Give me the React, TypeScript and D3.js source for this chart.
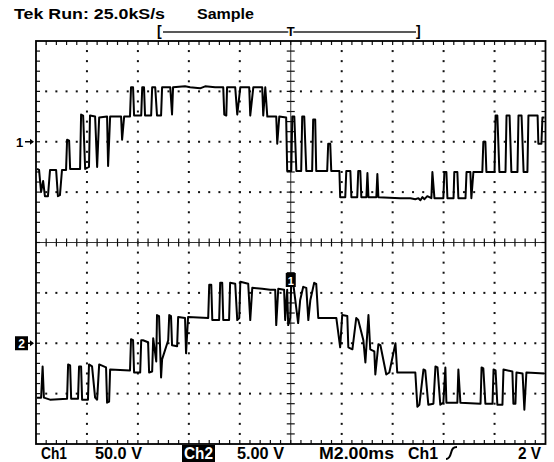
import React from 'react';
import * as d3 from 'd3';

// Timebase: 2.00 ms/div, 10 divisions; vertical: 8 divisions
const timeDomain: [number, number] = [0, 20];
const divDomain: [number, number] = [-4, 4];
const hDivs = 10;
const vDivs = 8;
const minorPerDiv = 5;

// Channel settings
const ch1VoltsPerDiv = 50;
const ch1OffsetDiv = 2;
const ch2VoltsPerDiv = 5;
const ch2OffsetDiv = -2;

// Ch1 trace: [time ms, volts]
const ch1Points: [number, number][] = [
  [0.04, -27], [0.12, -28], [0.2, -50], [0.28, -39], [0.35, -54], [0.47, -54], [0.55, -28], [0.79, -28],
  [0.86, -54], [0.94, -53], [1.02, -28], [1.18, -28], [1.22, 2], [1.3, 1], [1.34, -27], [1.73, -27],
  [1.77, 27], [1.85, 26], [1.93, -27], [2.08, -25], [2.12, 26], [2.32, 25], [2.4, -25], [2.48, 24],
  [2.79, 25], [2.83, -24], [2.91, 25], [3.34, 25], [3.38, 2], [3.46, 25], [3.69, 25], [3.73, 54],
  [3.81, 54], [3.85, 26], [4.13, 26], [4.17, 54], [4.24, 54], [4.28, 26], [4.52, 26], [4.56, 54],
  [4.68, 54], [4.75, 26], [4.91, 26], [4.95, 54], [5.27, 54], [5.34, 27], [5.38, 54], [5.85, 55],
  [6.05, 54], [6.44, 53], [6.64, 55], [7.03, 54], [7.35, 54], [7.39, 27], [7.47, 26], [7.5, 54],
  [7.82, 54], [7.9, 27], [8.02, 54], [8.37, 54], [8.41, 26], [8.53, 54], [8.88, 54], [8.92, 26],
  [9.0, 54], [9.08, 25], [9.43, 25], [9.47, -2], [9.55, 25], [9.82, 24], [9.86, -29], [10.02, -29],
  [10.06, 25], [10.14, 25], [10.22, -29], [10.41, -29], [10.45, 25], [10.53, 25], [10.61, -29],
  [10.84, -29], [10.88, 22], [10.96, 22], [11.0, -29], [11.43, -29], [11.47, -2], [11.55, -2],
  [11.59, -29], [11.91, -29], [11.94, -55], [12.14, -55], [12.18, -29], [12.34, -29], [12.38, -55],
  [12.61, -55], [12.65, -29], [12.73, -29], [12.77, -55], [12.97, -55], [13.01, -31], [13.05, -55],
  [13.36, -55], [13.4, -32], [13.44, -55], [14.3, -56], [14.7, -56], [14.89, -57], [15.01, -56],
  [15.09, -58], [15.17, -55], [15.25, -57], [15.36, -54], [15.52, -56], [15.56, -30], [15.64, -56],
  [15.99, -56], [16.03, -30], [16.11, -30], [16.15, -56], [16.39, -56], [16.42, -30], [16.54, -30],
  [16.58, -56], [16.86, -56], [16.9, -30], [17.05, -30], [17.09, -56], [17.17, -30], [17.52, -30],
  [17.56, 0], [17.64, 0], [17.68, -30], [18.0, -30], [18.04, 26], [18.11, 26], [18.19, -30],
  [18.43, -30], [18.47, 26], [18.59, 26], [18.66, -30], [18.9, -30], [18.94, 26], [19.06, 26],
  [19.14, -30], [19.29, -30], [19.33, 26], [19.69, 26], [19.72, -2], [19.84, -2], [19.88, 24],
  [19.96, 24],
];

// Ch2 trace: [time ms, volts]
const ch2Points: [number, number][] = [
  [0.04, -5.4], [0.2, -5.4], [0.26, -2.3], [0.31, -5.4], [0.55, -5.6], [1.22, -5.5], [1.26, -2.1],
  [1.34, -2.2], [1.38, -5.5], [1.65, -5.5], [1.69, -2.3], [1.77, -2.3], [1.81, -5.6], [2.04, -5.6],
  [2.08, -2.1], [2.2, -2.3], [2.32, -5.4], [2.4, -5.6], [2.48, -2.1], [2.75, -2.4], [2.79, -5.9],
  [2.87, -5.8], [2.91, -2.6], [3.69, -2.7], [3.73, 0.4], [3.81, 0.3], [3.85, -2.9], [4.09, -2.9],
  [4.13, 0.3], [4.2, 0.3], [4.4, 0.1], [4.44, -2.9], [4.56, -2.8], [4.6, 0.5], [4.72, -1.8],
  [4.75, 2.8], [4.83, 2.7], [4.91, -3.4], [4.95, -1.6], [5.19, 0.3], [5.23, 2.8], [5.3, 2.7],
  [5.34, -0.2], [5.54, -0.3], [5.58, 2.6], [5.85, 2.5], [5.89, -1.0], [5.97, 2.6], [6.76, 2.5],
  [6.8, 5.8], [6.88, 5.8], [6.92, 2.3], [7.19, 2.3], [7.23, 6.0], [7.31, 6.0], [7.35, 2.3],
  [7.58, 2.3], [7.62, 6.0], [7.82, 5.9], [7.9, 2.3], [7.98, 2.5], [8.02, 6.1], [8.33, 5.9],
  [8.41, 2.3], [8.49, 5.5], [8.88, 5.4], [9.19, 5.3], [9.39, 5.3], [9.43, 1.8], [9.51, 5.4],
  [9.74, 5.3], [9.78, 2.3], [9.86, 5.3], [9.9, 1.8], [9.98, 2.5], [10.02, 6.0], [10.1, 5.9],
  [10.29, 2.0], [10.37, 4.3], [10.49, 5.6], [10.61, 5.5], [10.69, 2.3], [10.77, 4.3], [10.92, 6.0],
  [11.0, 5.9], [11.08, 2.5], [11.79, 2.5], [11.94, -0.4], [12.02, 2.8], [12.22, 2.7], [12.26, -0.4],
  [12.42, -0.6], [12.57, 2.5], [12.65, 2.3], [12.85, 0.3], [12.93, -1.9], [13.05, 2.8], [13.12, -0.6],
  [13.28, -0.8], [13.32, -3.1], [13.44, -0.1], [13.52, -0.2], [13.75, -3.1], [13.87, -2.9],
  [14.11, 0.0], [14.18, -2.9], [14.89, -2.9], [14.97, -6.3], [15.05, -6.1], [15.21, -2.6],
  [15.28, -2.7], [15.4, -6.1], [15.6, -6.0], [15.68, -2.3], [15.76, -2.4], [15.87, -6.1],
  [15.99, -5.9], [16.07, -2.4], [16.11, -5.9], [16.54, -5.9], [16.58, -2.6], [16.66, -5.9],
  [17.45, -6.0], [17.49, -2.4], [17.56, -2.5], [17.64, -6.0], [17.92, -6.0], [17.96, -2.6],
  [18.04, -2.7], [18.11, -6.1], [18.31, -6.1], [18.35, -2.6], [18.7, -2.8], [18.74, -6.0],
  [18.82, -6.0], [18.86, -2.9], [19.1, -3.0], [19.17, -6.6], [19.25, -2.9], [19.96, -3.0],
];

const headerLabels = ['Tek Run: 25.0kS/s', 'Sample'];
const footerLabels = ['Ch1', '50.0 V', 'Ch2', '5.00 V', 'M2.00ms', 'Ch1', '2 V'];

const W = 554;
const H = 462;
const FONT = "'Liberation Sans', Arial, sans-serif";

export default function App() {
  const x = d3.scaleLinear().domain(timeDomain).range([36, 545.5]);
  const yDiv = d3.scaleLinear().domain(divDomain).range([444, 41]);
  const y1 = (v: number) => yDiv(v / ch1VoltsPerDiv + ch1OffsetDiv);
  const y2 = (v: number) => yDiv(v / ch2VoltsPerDiv + ch2OffsetDiv);

  const line1 = d3.line<[number, number]>().x(d => x(d[0])).y(d => y1(d[1]));
  const line2 = d3.line<[number, number]>().x(d => x(d[0])).y(d => y2(d[1]));

  const [x0, x1] = x.range();
  const [yb, yt] = yDiv.range();
  const tPerDiv = (timeDomain[1] - timeDomain[0]) / hDivs;
  const minorT = d3.range(0, hDivs * minorPerDiv + 1).map(i => timeDomain[0] + (i * tPerDiv) / minorPerDiv);
  const minorD = d3.range(0, vDivs * minorPerDiv + 1).map(i => divDomain[0] + i / minorPerDiv);
  const majorT = d3.range(1, hDivs).map(i => timeDomain[0] + i * tPerDiv);
  const majorD = d3.range(1, vDivs).map(i => divDomain[0] + i);
  const cx = x((timeDomain[0] + timeDomain[1]) / 2);
  const cy = yDiv(0);

  const dots: JSX.Element[] = [];
  majorT.forEach((t, i) => {
    if (Math.abs(x(t) - cx) < 1) return;
    minorD.forEach((d, j) => {
      if (j === 0 || j === minorD.length - 1) return;
      dots.push(<rect key={`vd${i}-${j}`} x={x(t) - 1} y={yDiv(d) - 1} width={2} height={2} fill="#111" />);
    });
  });
  majorD.forEach((d, i) => {
    if (Math.abs(yDiv(d) - cy) < 1) return;
    minorT.forEach((t, j) => {
      if (j === 0 || j === minorT.length - 1) return;
      dots.push(<rect key={`hd${i}-${j}`} x={x(t) - 1} y={yDiv(d) - 1} width={2} height={2} fill="#111" />);
    });
  });

  const ticks: JSX.Element[] = [];
  minorT.forEach((t, j) => {
    if (j === 0 || j === minorT.length - 1) return;
    const px = x(t);
    ticks.push(<line key={`ct${j}`} x1={px} x2={px} y1={cy - 4} y2={cy + 4} stroke="#111" strokeWidth={1.2} />);
    ticks.push(<line key={`tt${j}`} x1={px} x2={px} y1={yt} y2={yt + 4} stroke="#111" strokeWidth={1.2} />);
    ticks.push(<line key={`bt${j}`} x1={px} x2={px} y1={yb - 4} y2={yb} stroke="#111" strokeWidth={1.2} />);
  });
  minorD.forEach((d, j) => {
    if (j === 0 || j === minorD.length - 1) return;
    const py = yDiv(d);
    ticks.push(<line key={`cv${j}`} x1={cx - 4} x2={cx + 4} y1={py} y2={py} stroke="#111" strokeWidth={1.2} />);
    ticks.push(<line key={`lt${j}`} x1={x0} x2={x0 + 4} y1={py} y2={py} stroke="#111" strokeWidth={1.2} />);
    ticks.push(<line key={`rt${j}`} x1={x1 - 4} x2={x1} y1={py} y2={py} stroke="#111" strokeWidth={1.2} />);
  });

  const ch1G = y1(0);
  const ch2G = y2(0);

  return (
    <svg width={W} height={H} style={{ position: 'absolute', left: 0, top: 0, background: '#fff' }} fontFamily={FONT}>
      <rect x={0} y={0} width={W} height={H} fill="#fff" />
      {/* header */}
      <text x={14} y={19} fontSize={14} fontWeight="bold" textLength={151} lengthAdjust="spacingAndGlyphs">{headerLabels[0]}</text>
      <text x={197} y={19} fontSize={14} fontWeight="bold" textLength={57} lengthAdjust="spacingAndGlyphs">{headerLabels[1]}</text>
      {/* record bracket */}
      <text x={157} y={36} fontSize={14} fontWeight="bold">[</text>
      <line x1={163} x2={416} y1={32} y2={32} stroke="#222" strokeWidth={1.3} />
      <text x={cx} y={36} fontSize={13} fontWeight="bold" textAnchor="middle" stroke="#fff" strokeWidth={3} paintOrder="stroke">T</text>
      <text x={416} y={36} fontSize={14} fontWeight="bold">]</text>

      {/* graticule */}
      {dots}
      <line x1={x0} x2={x1} y1={cy} y2={cy} stroke="#333" strokeWidth={1} />
      <line x1={cx} x2={cx} y1={yt} y2={yb} stroke="#333" strokeWidth={1} />
      {ticks}
      <rect x={x0} y={yt} width={x1 - x0} height={yb - yt} fill="none" stroke="#000" strokeWidth={1.8} />

      {/* traces */}
      <path d={line1(ch1Points) || ''} fill="none" stroke="#000" strokeWidth={2} strokeLinejoin="round" />
      <path d={line2(ch2Points) || ''} fill="none" stroke="#000" strokeWidth={2} strokeLinejoin="round" />

      {/* channel ground markers */}
      <text x={16} y={ch1G + 5} fontSize={13} fontWeight="bold">1</text>
      <line x1={25} x2={33} y1={ch1G} y2={ch1G} stroke="#000" strokeWidth={1.5} />
      <path d={`M${34},${ch1G} l-4,-3 l0,6 z`} fill="#000" />
      <rect x={15} y={ch2G - 7} width={13} height={14} fill="#000" />
      <text x={21.5} y={ch2G + 5} fontSize={12} fontWeight="bold" fill="#fff" textAnchor="middle">2</text>
      <line x1={28} x2={33} y1={ch2G} y2={ch2G} stroke="#000" strokeWidth={1.5} />
      <path d={`M${34},${ch2G} l-4,-3 l0,6 z`} fill="#000" />

      {/* trigger position marker */}
      <rect x={cx - 5} y={273} width={10} height={14} fill="#000" />
      <text x={cx} y={284.5} fontSize={11} fontWeight="bold" fill="#fff" textAnchor="middle">1</text>

      {/* footer */}
      <text x={41} y={459} fontSize={16} fontWeight="bold" textLength={26} lengthAdjust="spacingAndGlyphs">{footerLabels[0]}</text>
      <text x={95} y={459} fontSize={16} fontWeight="bold" textLength={47} lengthAdjust="spacingAndGlyphs">{footerLabels[1]}</text>
      <rect x={182} y={445} width={33} height={17} fill="#000" />
      <text x={184} y={459} fontSize={16} fontWeight="bold" fill="#fff" textLength={29} lengthAdjust="spacingAndGlyphs">{footerLabels[2]}</text>
      <text x={237} y={459} fontSize={16} fontWeight="bold" textLength={47} lengthAdjust="spacingAndGlyphs">{footerLabels[3]}</text>
      <text x={319} y={459} fontSize={16} fontWeight="bold" textLength={75} lengthAdjust="spacingAndGlyphs">{footerLabels[4]}</text>
      <text x={408} y={459} fontSize={16} fontWeight="bold" textLength={30} lengthAdjust="spacingAndGlyphs">{footerLabels[5]}</text>
      <path d="M446,459 C449,459 450,457 451,453 C452,449 453,447 457,447" fill="none" stroke="#000" strokeWidth={2} />
      <text x={518} y={459} fontSize={16} fontWeight="bold" textLength={23} lengthAdjust="spacingAndGlyphs">{footerLabels[6]}</text>
    </svg>
  );
}
